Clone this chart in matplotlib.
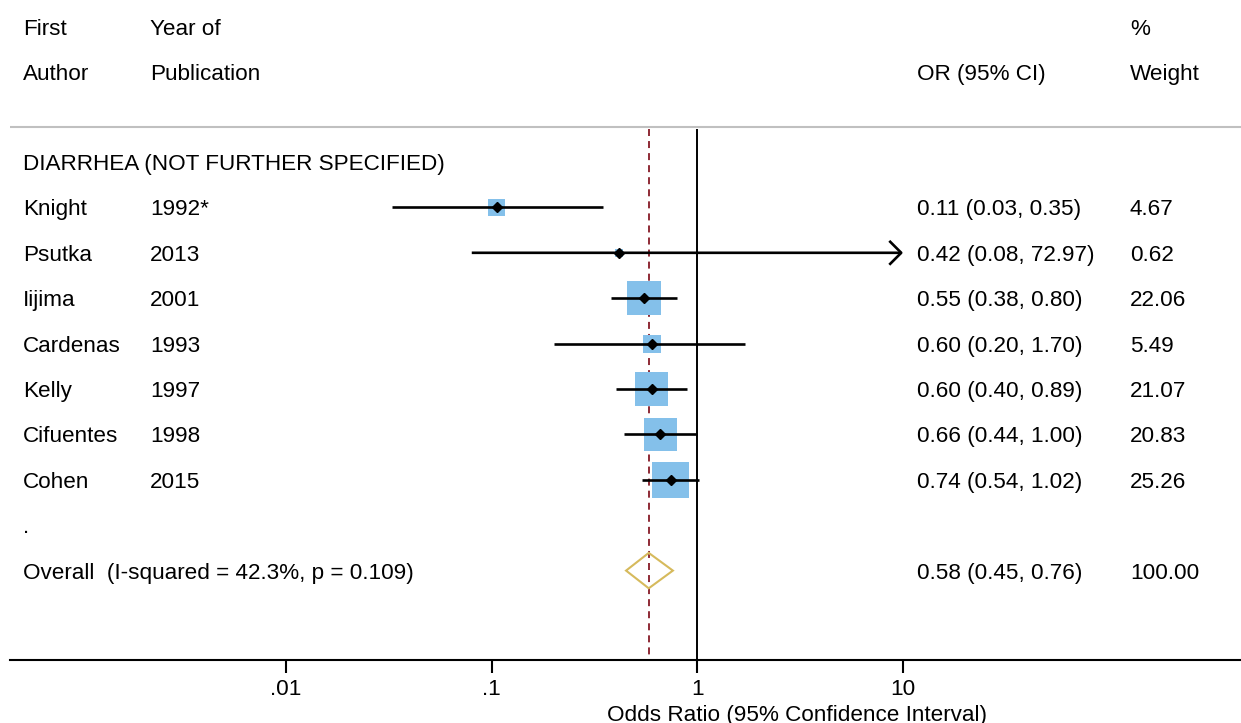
import numpy as np
import matplotlib
matplotlib.use("Agg")
import matplotlib.pyplot as plt
from matplotlib.transforms import blended_transform_factory

# ---------------- data ----------------
group_label = "DIARRHEA (NOT FURTHER SPECIFIED)"
authors = ["Knight", "Psutka", "Iijima", "Cardenas", "Kelly", "Cifuentes", "Cohen"]
years = ["1992*", "2013", "2001", "1993", "1997", "1998", "2015"]
or_est = [0.106, 0.417, 0.55, 0.60, 0.60, 0.66, 0.74]
ci_lo = [0.0327, 0.08, 0.38, 0.20, 0.40, 0.44, 0.54]
ci_hi = [0.347, 72.97, 0.80, 1.70, 0.89, 1.00, 1.02]
weights = [4.67, 0.62, 22.06, 5.49, 21.07, 20.83, 25.26]
overall_label = "Overall  (I-squared = 42.3%, p = 0.109)"
overall_est, overall_lo, overall_hi, overall_w = 0.58, 0.45, 0.76, 100.00
tick_vals = [0.01, 0.1, 1, 10]
tick_labels = [".01", ".1", "1", "10"]
ci_clip = 10  # upper display limit for CIs (arrow beyond)

# ---------------- style ----------------
FONT = "Liberation Sans"
FS = 16.2
plt.rcParams["font.family"] = [FONT, "DejaVu Sans"]
SQ_COLOR = "#84C0EA"
RED = "#8E2A35"
GOLD = "#D6BA5C"

fig = plt.figure(figsize=(12.41, 7.23), dpi=100)
W, H = 1241, 723
ax_left, ax_bottom_px = 10, 660
ax = fig.add_axes([ax_left / W, (H - ax_bottom_px) / H, (W - ax_left) / W, ax_bottom_px / H])

# x mapping: 1 at px 697.4, 205.7 px per decade
x0, dec = 697.4, 205.7
ax.set_xscale("log")
ax.set_xlim(10 ** ((ax_left - x0) / dec), 10 ** ((W - x0) / dec))
# y mapping in row units: row 0 at px 162, 45.4 px per row
y0, rowh = 162.0, 45.4
ax.set_ylim((ax_bottom_px - y0) / rowh, (0 - y0) / rowh)

for s in ["top", "right", "left"]:
    ax.spines[s].set_visible(False)
ax.spines["bottom"].set_linewidth(1.5)
ax.set_yticks([])
ax.set_xticks(tick_vals)
ax.set_xticklabels(tick_labels, fontsize=FS)
ax.xaxis.set_minor_locator(matplotlib.ticker.NullLocator())
ax.tick_params(axis="x", length=9.4, width=1.5, pad=4.3)
ax.set_xlabel("Odds Ratio (95% Confidence Interval)", fontsize=FS)
ax.xaxis.label.set_va("center")
ax.xaxis.set_label_coords((797 - ax_left) / (W - ax_left), -(716 - ax_bottom_px) / ax_bottom_px)

n = len(authors)
rows = np.arange(1, n + 1)
overall_row = n + 2
header_rows = (-2.97, -1.98)
rule_row = -0.77
vline_top = -0.73
ybot = ax.get_ylim()[0]
tdy = 0.055  # small downward nudge of text relative to marks

# header rule
ax.axhline(rule_row, color="#C0C0C0", lw=1.5, zorder=1)
# reference lines
ax.vlines(1, vline_top, ybot, color="black", lw=1.4, zorder=2)
ax.vlines(overall_est, vline_top, ybot, color=RED, lw=1.4, linestyles=(0, (3.6, 2.6)), zorder=2)

# squares
side_px = 6.7 * np.sqrt(np.array(weights)) + 2.5
ax.scatter(or_est, rows, marker="s", s=(side_px * 0.72) ** 2, color=SQ_COLOR, linewidths=0, zorder=3)

# CIs
for r, lo, hi in zip(rows, ci_lo, ci_hi):
    if hi > ci_clip:
        ax.annotate("", xy=(ci_clip, r), xytext=(lo, r),
                    arrowprops=dict(arrowstyle="->,head_length=0.86,head_width=0.86",
                                    mutation_scale=10, color="black", lw=1.9,
                                    capstyle="butt", shrinkA=0, shrinkB=0), zorder=4)
    else:
        ax.plot([lo, hi], [r, r], color="black", lw=1.9, solid_capstyle="butt", zorder=4)

ax.plot(or_est, rows, linestyle="none", marker="D", markersize=4.6, color="black", zorder=5)

# overall diamond
dh = 0.39
ax.fill([overall_lo, overall_est, overall_hi, overall_est],
        [overall_row, overall_row - dh, overall_row, overall_row + dh],
        facecolor="none", edgecolor=GOLD, lw=1.5, zorder=4)

# ---------------- text ----------------
tr = blended_transform_factory(fig.transFigure, ax.transData)
xa, xy_, xo, xw = 23 / W, 150 / W, 917 / W, 1130 / W
kw = dict(transform=tr, fontsize=FS, va="center", ha="left", clip_on=False)

def put(x, row, s):
    ax.text(x, row + tdy, s, **kw)

put(xa, header_rows[0], "First")
put(xy_, header_rows[0], "Year of")
put(xw, header_rows[0], "%")
put(xa, header_rows[1], "Author")
put(xy_, header_rows[1], "Publication")
put(xo, header_rows[1], "OR (95% CI)")
put(xw, header_rows[1], "Weight")

put(xa, 0, group_label)
for r, a, yr, e, lo, hi, w in zip(rows, authors, years, or_est, ci_lo, ci_hi, weights):
    put(xa, r, a)
    put(xy_, r, yr)
    put(xo, r, f"{e:.2f} ({lo:.2f}, {hi:.2f})")
    put(xw, r, f"{w:.2f}")

put(xa, n + 1, ".")
put(xa, overall_row, overall_label)
put(xo, overall_row, f"{overall_est:.2f} ({overall_lo:.2f}, {overall_hi:.2f})")
put(xw, overall_row, f"{overall_w:.2f}")

fig.savefig("out.png", dpi=100)
